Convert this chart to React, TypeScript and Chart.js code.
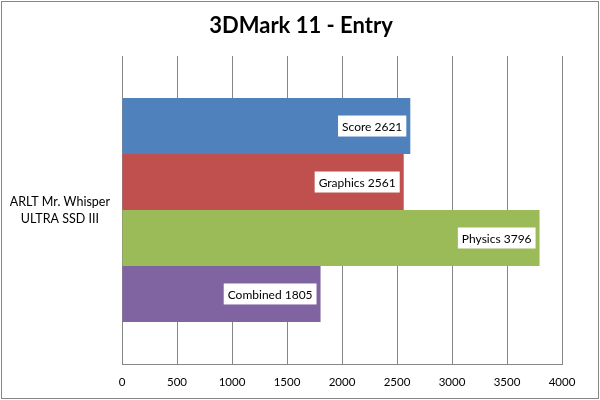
import React, { useEffect, useRef } from "react";
import { Chart, registerables } from "chart.js";

Chart.register(...registerables);

const title = "3DMark 11 - Entry";
const categories = [["ARLT Mr. Whisper", "ULTRA SSD III"]];
const seriesNames = ["Score", "Graphics", "Physics", "Combined"];
const seriesValues = [[2621], [2561], [3796], [1805]];
const seriesColors = ["#4F81BD", "#C0504D", "#9BBB59", "#8064A2"];
const xTicks = { min: 0, max: 4000, step: 500 };

const FONT = "Lato, 'Open Sans', sans-serif";
const GRID = "#868686";

const labelPlugin = {
  id: "barLabels",
  afterDatasetsDraw(chart: any) {
    const ctx = chart.ctx;
    ctx.save();
    ctx.font = `12px ${FONT}`;
    ctx.textBaseline = "middle";
    chart.data.datasets.forEach((ds: any, i: number) => {
      const meta = chart.getDatasetMeta(i);
      meta.data.forEach((bar: any, j: number) => {
        const text = `${ds.label} ${ds.data[j]}`;
        const w = ctx.measureText(text).width;
        const padX = 4;
        const h = 21;
        const right = bar.x - 4;
        const left = right - w - padX * 2;
        ctx.fillStyle = "#FFFFFF";
        ctx.fillRect(left, bar.y - h / 2, w + padX * 2, h);
        ctx.fillStyle = "#000000";
        ctx.textAlign = "left";
        ctx.fillText(text, left + padX, bar.y + 1);
      });
    });
    ctx.restore();
  },
};

const framePlugin = {
  id: "frameAndTitle",
  afterDraw(chart: any) {
    const ctx = chart.ctx;
    ctx.save();
    ctx.strokeStyle = GRID;
    ctx.lineWidth = 1;
    ctx.strokeRect(1.5, 1.5, chart.width - 3, chart.height - 3);
    ctx.fillStyle = "#000000";
    ctx.font = `bold 22px ${FONT}`;
    ctx.textAlign = "center";
    ctx.textBaseline = "middle";
    ctx.fillText(title, chart.width / 2 + 1, 26);
    ctx.restore();
  },
};

export default function App() {
  const ref = useRef<HTMLCanvasElement | null>(null);
  useEffect(() => {
    document.body.style.margin = "0";
    if (!ref.current) return;
    const chart = new Chart(ref.current, {
      type: "bar",
      data: {
        labels: categories as any,
        datasets: seriesNames.map((name, i) => ({
          label: name,
          data: seriesValues[i],
          backgroundColor: seriesColors[i],
          borderWidth: 0,
          categoryPercentage: 0.727,
          barPercentage: 1,
        })),
      },
      options: {
        indexAxis: "y",
        animation: false,
        responsive: false,
        maintainAspectRatio: false,
        layout: { padding: { left: 10, right: 38, top: 56, bottom: 0 } },
        plugins: {
          legend: { display: false },
          tooltip: { enabled: false },
          title: { display: false },
        },
        scales: {
          x: {
            min: xTicks.min,
            max: xTicks.max,
            ticks: {
              stepSize: xTicks.step,
              color: "#000000",
              font: { family: FONT, size: 11.5 },
              padding: 11,
              maxRotation: 0,
              callback: (v: any) => String(v),
            },
            grid: { color: GRID, drawTicks: false, lineWidth: 1 },
            border: { display: true, color: GRID },
            afterFit(scale: any) {
              scale.height = 36;
            },
          },
          y: {
            ticks: {
              color: "#000000",
              font: { family: FONT, size: 12.5, lineHeight: 1.36 },
              crossAlign: "center",
              padding: 12,
            },
            grid: { display: false, drawTicks: false },
            border: { display: true, color: GRID },
            afterFit(scale: any) {
              scale.width = 112;
            },
          },
        },
      },
      plugins: [labelPlugin, framePlugin],
    });
    return () => chart.destroy();
  }, []);
  return (
    <div style={{ position: "absolute", left: 0, top: 0, width: 600, height: 400, background: "#fff" }}>
      <canvas ref={ref} width={600} height={400} style={{ width: 600, height: 400 }} />
    </div>
  );
}
